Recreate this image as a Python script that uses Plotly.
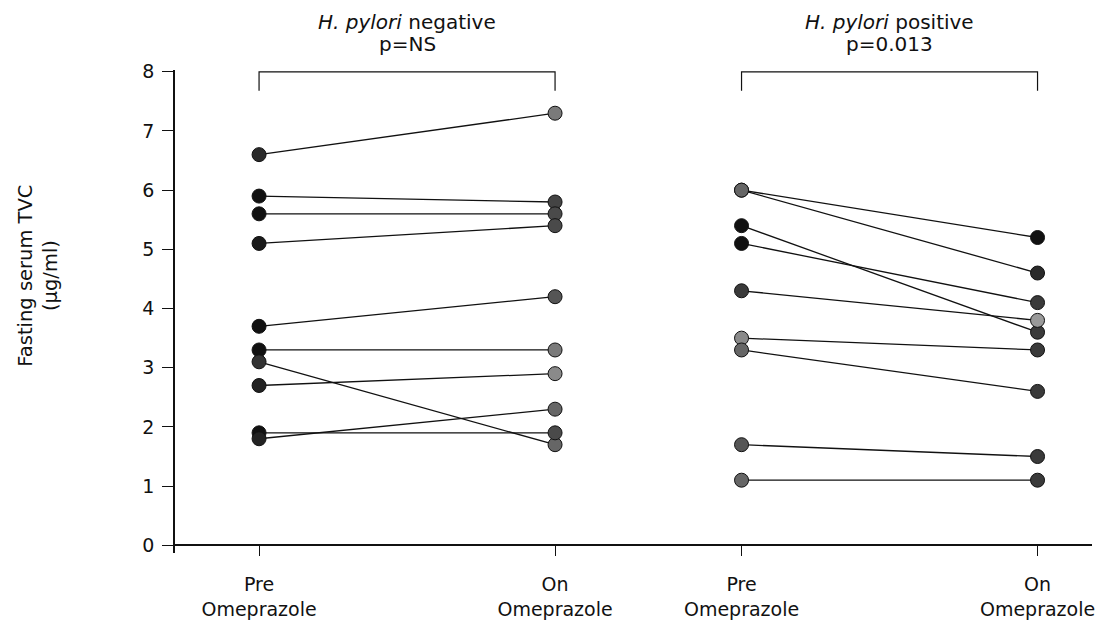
import plotly.graph_objects as go

# ---- data ----
categories = ["Pre<br>Omeprazole", "On<br>Omeprazole", "Pre<br>Omeprazole", "On<br>Omeprazole"]
cat_pos = [0, 1, 1.63, 2.63]
y_ticks = [0, 1, 2, 3, 4, 5, 6, 7, 8]

neg_pre = [6.6, 5.9, 5.6, 5.1, 3.7, 3.3, 3.1, 2.7, 1.9, 1.8]
neg_on = [7.3, 5.8, 5.6, 5.4, 4.2, 3.3, 1.7, 2.9, 1.9, 2.3]
pos_pre = [6.0, 6.0, 5.4, 5.1, 4.3, 3.5, 3.3, 1.7, 1.1]
pos_on = [5.2, 4.6, 3.6, 4.1, 3.8, 3.3, 2.6, 1.5, 1.1]

group_names = ["<i>H. pylori</i> negative", "<i>H. pylori</i> positive"]
group_pvals = ["p=NS", "p=0.013"]

# ---- styles ----
neg_pre_col = ["#2a2a2a", "#111", "#111", "#1a1a1a", "#111", "#111", "#333", "#222", "#111", "#222"]
neg_on_col = ["#7a7a7a", "#444", "#4a4a4a", "#4a4a4a", "#555", "#7a7a7a", "#666", "#8a8a8a", "#4a4a4a", "#666"]
pos_pre_col = ["#666", "#666", "#111", "#111", "#3a3a3a", "#8a8a8a", "#666", "#555", "#666"]
pos_on_col = ["#111", "#2a2a2a", "#3a3a3a", "#3a3a3a", "#9a9a9a", "#3a3a3a", "#3a3a3a", "#3a3a3a", "#3a3a3a"]

FONT = "DejaVu Sans, Liberation Sans, Arial, sans-serif"

fig = go.Figure()


def add_group(pre, on, x0, x1, cpre, con):
    for a, b, ca, cb in zip(pre, on, cpre, con):
        fig.add_trace(go.Scatter(
            x=[x0, x1], y=[a, b], mode="lines+markers",
            line=dict(color="#111", width=1.3),
            marker=dict(size=14, color=[ca, cb], line=dict(color="#111", width=1)),
            showlegend=False, hoverinfo="skip", cliponaxis=False,
        ))


add_group(neg_pre, neg_on, cat_pos[0], cat_pos[1], neg_pre_col, neg_on_col)
add_group(pos_pre, pos_on, cat_pos[2], cat_pos[3], pos_pre_col, pos_on_col)

ymin, ymax = -0.13, 8.03

# brackets
for (xa, xb) in [(cat_pos[0], cat_pos[1]), (cat_pos[2], cat_pos[3])]:
    fig.add_trace(go.Scatter(
        x=[xa, xa, xb, xb], y=[7.68, 8, 8, 7.68], mode="lines",
        line=dict(color="#111", width=1.2), showlegend=False, hoverinfo="skip",
    ))

for i in range(2):
    xc = (cat_pos[2 * i] + cat_pos[2 * i + 1]) / 2
    fig.add_annotation(x=xc, xref="x", y=1, yref="paper", yanchor="middle",
                       yshift=48, text=group_names[i], showarrow=False,
                       font=dict(family=FONT, size=20, color="#111"))
    fig.add_annotation(x=xc, xref="x", y=1, yref="paper", yanchor="middle",
                       yshift=26, text=group_pvals[i], showarrow=False,
                       font=dict(family=FONT, size=20, color="#111"))

fig.add_annotation(x=-0.149, xref="paper", xanchor="center",
                   y=0.575, yref="paper", yanchor="middle",
                   text="Fasting serum TVC<br>(µg/ml)", textangle=-90,
                   showarrow=False, font=dict(family=FONT, size=19.5, color="#111"))

fig.update_layout(
    width=1108, height=632,
    margin=dict(l=175, r=16, t=70, b=79),
    plot_bgcolor="white", paper_bgcolor="white",
    font=dict(family=FONT, size=19, color="#111"),
    xaxis=dict(range=[-0.284, 2.814], tickvals=cat_pos, ticktext=categories,
               showline=True, linecolor="#111", linewidth=1.5,
               ticks="outside", ticklen=10, tickcolor="#111", tickwidth=1.3,
               ticklabelstandoff=12,
               showgrid=False, zeroline=False,
               anchor="free", position=(0 - ymin) / (ymax - ymin)),
    yaxis=dict(range=[ymin, ymax], tickvals=y_ticks,
               showline=True, linecolor="#111", linewidth=1.5,
               ticks="outside", ticklen=11, tickcolor="#111", tickwidth=1.3,
               ticklabelstandoff=4,
               showgrid=False, zeroline=False),
)

fig.write_html("out.html")
